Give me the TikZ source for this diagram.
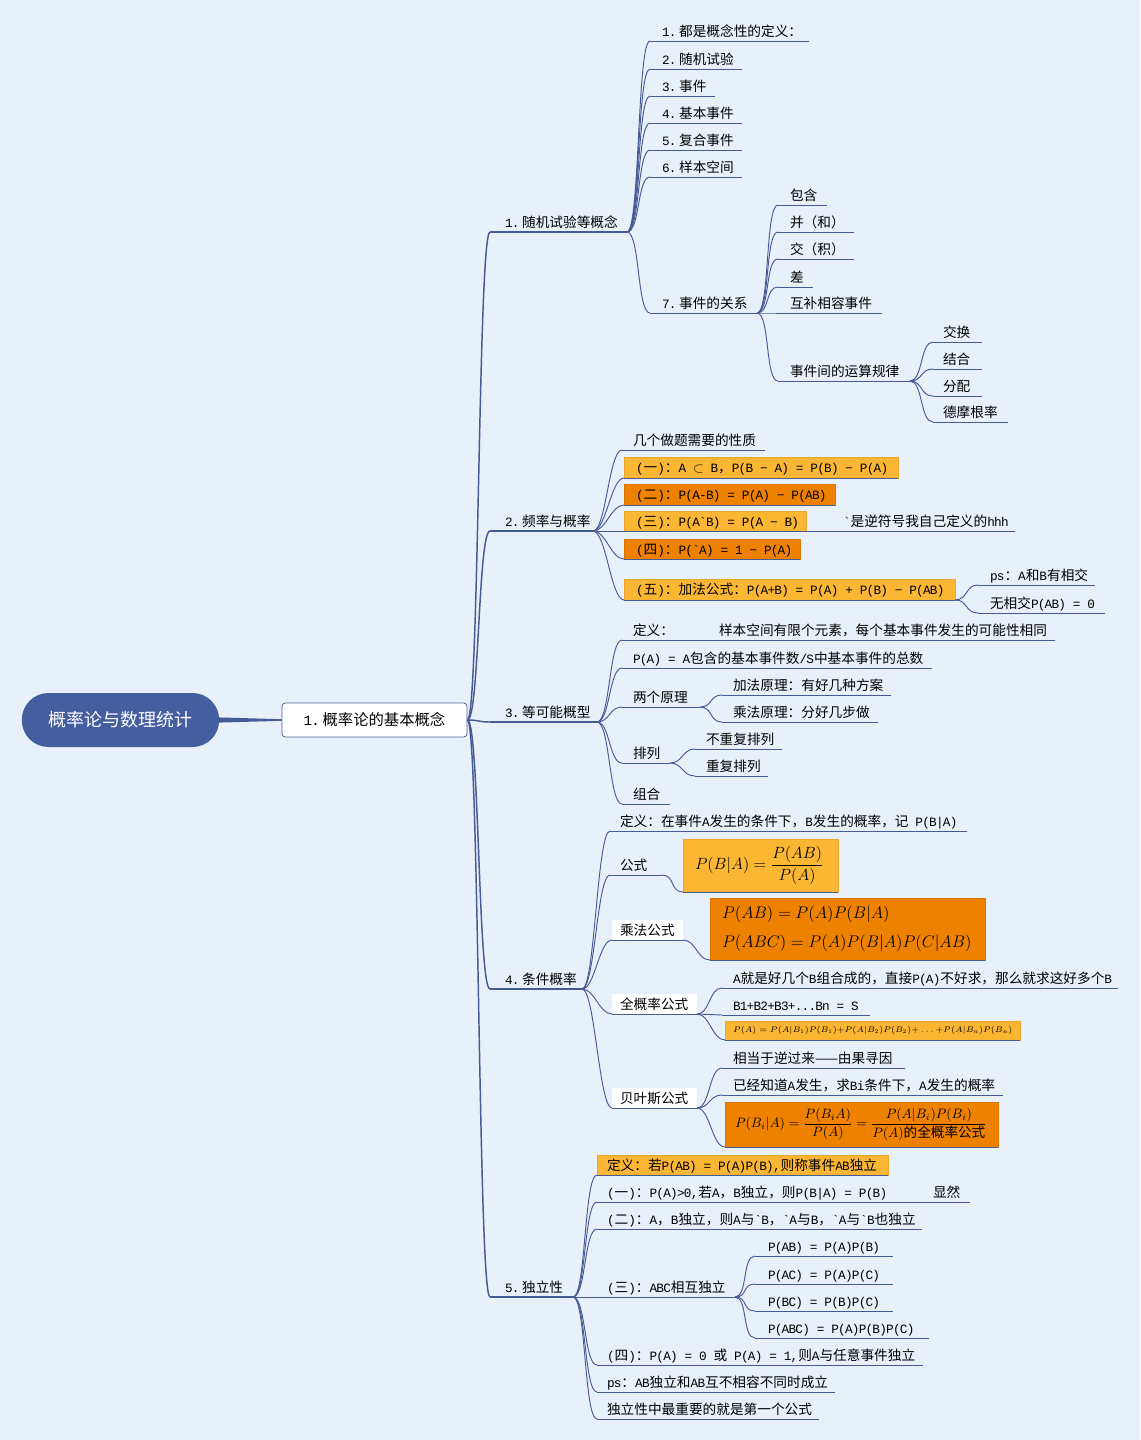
\RequirePackage{fix-cm}
\documentclass[tikz,border=0pt]{standalone}
\usepackage{amsmath}
\usepackage{fontspec}
\setmonofont[Scale=0.93,LetterSpace=-6]{Liberation Mono}
\renewcommand\familydefault{\ttdefault}
\newfontfamily\cjkf{Noto Sans CJK SC}
\usetikzlibrary{calc}
% automatic switch to the CJK font for CJK characters
\chardef\cjkcls=7
\newcount\cjkn
\cjkn="3000
\loop\XeTeXcharclass\cjkn=\cjkcls\ifnum\cjkn<"9FFF\advance\cjkn by 1\repeat
\cjkn="FF00
\loop\XeTeXcharclass\cjkn=\cjkcls\ifnum\cjkn<"FFEF\advance\cjkn by 1\repeat
\XeTeXcharclass"2014=\cjkcls
\XeTeXinterchartokenstate=1
\XeTeXinterchartoks 0 \cjkcls = {\begingroup\cjkf}
\XeTeXinterchartoks 4095 \cjkcls = {\begingroup\cjkf}
\XeTeXinterchartoks \cjkcls 0 = {\endgroup}
\XeTeXinterchartoks \cjkcls 4095 = {\endgroup}

\definecolor{bgc}{RGB}{232,240,249}
\definecolor{lc}{RGB}{70,90,150}
\definecolor{lo}{RGB}{251,183,52}
\definecolor{loB}{RGB}{236,165,45}
\definecolor{dor}{RGB}{238,130,0}
\definecolor{doB}{RGB}{220,118,0}
\definecolor{rootc}{RGB}{68,94,160}
\definecolor{mainB}{RGB}{85,100,145}

\newdimen\pxu \pxu=0.75pt
\tikzset{
  lnk/.style={draw=lc, line width=0.7pt},
  lnkA/.style={draw=lc, line width=1.1pt},
  tp/.style={anchor=south west, inner sep=0pt, outer sep=0pt, text height=7.5pt, text depth=3.75pt, font=\ttfamily\fontsize{10.25}{12}\selectfont},
  bx/.style={anchor=south west, inner sep=0pt, outer sep=0pt, font=\ttfamily\fontsize{10.25}{12}\selectfont},
  bxt/.style={bx, text height=9pt, text depth=1.5pt},
  lob/.style={bxt, fill=lo, draw=loB, line width=0.4pt},
  dob/.style={bxt, fill=dor, draw=doB, line width=0.4pt},
  wb/.style={bxt, fill=white},
  lof/.style={bx, fill=lo, draw=loB, line width=0.4pt},
  dof/.style={bx, fill=dor, draw=doB, line width=0.4pt},
  rootn/.style={fill=rootc, text=white, rounded corners=20pt, minimum width=148pt, minimum height=40.5pt, inner sep=0pt, font=\fontsize{13.5}{16}\selectfont},
  mainn/.style={fill=white, draw=mainB, line width=0.6pt, rounded corners=2.5pt, minimum width=138.75pt, minimum height=25.5pt, inner sep=0pt, font=\ttfamily\fontsize{11.5}{14}\selectfont}
}
% topic with underline: [pad]{name}{x}{y of underline}{width}{text}
\newcommand\mmtopic[6][11]{\node[tp] (#2) at (#3,#4) {\makebox[#5\pxu][l]{\hspace*{#1\pxu}#6}};}
% filled box: [pad]{name}{x}{y bottom}{width}{height}{style}{text}
\newcommand\mmbox[8][12]{\node[#7, minimum height=#6*0.75pt] (#2) at (#3,#4) {\makebox[#5\pxu][l]{\hspace*{#1\pxu}#8}};}

\begin{document}
\begin{tikzpicture}[x=0.75pt, y=-0.75pt]
\fill[bgc] (0,0) rectangle (1140,1440);
\useasboundingbox (0,0) rectangle (1140,1440);

\node[rootn] (root) at (120.5,720) {概率论与数理统计};
\node[mainn] (main) at (374.5,720) {1.\hspace{2pt}概率论的基本概念};

% ---- section 1
\mmtopic[15]{s1}{490}{232}{137}{1.\hspace{2pt}随机试验等概念}
\mmtopic[12]{a1}{650}{41}{159}{1.\hspace{2pt}都是概念性的定义：}
\mmtopic[12]{a2}{650}{69}{92}{2.\hspace{2pt}随机试验}
\mmtopic[12]{a3}{650}{96}{65}{3.\hspace{2pt}事件}
\mmtopic[12]{a4}{650}{123}{92}{4.\hspace{2pt}基本事件}
\mmtopic[12]{a5}{650}{150}{92}{5.\hspace{2pt}复合事件}
\mmtopic[12]{a6}{650}{177}{92}{6.\hspace{2pt}样本空间}
\mmtopic[12]{a7}{650}{313}{107}{7.\hspace{2pt}事件的关系}
\mmtopic[12]{r1}{778}{205}{49}{包含}
\mmtopic[12]{r2}{778}{232}{76}{并（和）}
\mmtopic[12]{r3}{778}{259}{76}{交（积）}
\mmtopic[12]{r4}{778}{287}{35}{差}
\mmtopic[12]{r5}{778}{313}{104}{互补相容事件}
\mmtopic[12]{r6}{778}{381}{132}{事件间的运算规律}
\mmtopic[10]{o1}{933}{342}{49}{交换}
\mmtopic[10]{o2}{933}{369}{49}{结合}
\mmtopic[10]{o3}{933}{396}{49}{分配}
\mmtopic[10]{o4}{933}{422}{75}{德摩根率}

% ---- section 2
\mmtopic[15]{s2}{490}{531}{103}{2.\hspace{2pt}频率与概率}
\mmtopic{p0}{622}{450}{143}{几个做题需要的性质}
\mmbox{p1}{624}{478}{274}{21}{lob}{(一)：A $\subset$ B，P(B − A) = P(B) − P(A)}
\mmbox{p2}{624}{505}{211}{21}{dob}{(二)：P(A-B) = P(A) − P(AB)}
\mmbox{p3}{624}{531}{182}{20}{lob}{(三)：P(A`B) = P(A − B)}
\mmtopic[13]{p3c}{830}{531}{185}{`是逆符号我自己定义的hhh}
\mmbox{p4}{624}{559}{176}{20}{dob}{(四)：P(`A) = 1 − P(A)}
\mmbox{p5}{624}{600}{331}{21}{lob}{(五)：加法公式：P(A+B) = P(A) + P(B) − P(AB)}
\mmtopic[12]{p5a}{978}{585}{117}{ps：A和B有相交}
\mmtopic[12]{p5b}{978}{613}{127}{无相交P(AB) = 0}

% ---- section 3
\mmtopic[15]{s3}{490}{722}{107}{3.\hspace{2pt}等可能概型}
\mmtopic{q1}{622}{640}{433}{定义：\hspace*{45\pxu}样本空间有限个元素，每个基本事件发生的可能性相同}
\mmtopic{q2}{622}{668}{310}{P(A) = A包含的基本事件数/S中基本事件的总数}
\mmtopic{q3}{622}{707}{78}{两个原理}
\mmtopic{q31}{722}{695}{169}{加法原理：有好几种方案}
\mmtopic{q32}{722}{722}{156}{乘法原理：分好几步做}
\mmtopic{q4}{622}{763}{48}{排列}
\mmtopic{q41}{695}{749}{87}{不重复排列}
\mmtopic{q42}{695}{776}{73}{重复排列}
\mmtopic{q5}{622}{804}{48}{组合}

% ---- section 4
\mmtopic[15]{s4}{490}{989}{92}{4.\hspace{2pt}条件概率}
\mmtopic[10]{c1}{610}{831}{357}{定义：在事件A发生的条件下，B发生的概率，记 P(B|A)}
\mmtopic[10]{c2}{610}{875}{52}{公式}
\mmbox{c2f}{683}{892}{155}{53}{lof}{\fontsize{12.2}{14}\selectfont$P(B|A)=\dfrac{P(AB)}{P(A)}$}
\mmbox[8]{c3}{612}{940}{71}{20}{wb}{乘法公式}
\mmbox{c3f}{710}{960}{275}{62}{dof}{\fontsize{12.6}{15.5}\selectfont\begin{tabular}{@{}l@{}}$P(AB)=P(A)P(B|A)$\\[6.5pt]$P(ABC)=P(A)P(B|A)P(C|AB)$\end{tabular}}
\mmbox[8]{c4}{612}{1014}{85}{20}{wb}{全概率公式}
\mmtopic{c41}{722}{988}{396}{A就是好几个B组合成的，直接P(A)不好求，那么就求这好多个B}
\mmtopic{c42}{722}{1015}{148}{B1+B2+B3+...Bn = S}
\mmbox[8]{c43}{725}{1040}{295}{19}{lof}{\fontsize{6.2}{7.5}\selectfont$P(A)=P(A|B_1)P(B_1){+}P(A|B_2)P(B_2){+}\ldots{+}P(A|B_n)P(B_n)$}
\mmbox[8]{c5}{612}{1108}{85}{20}{wb}{贝叶斯公式}
\mmtopic{c51}{722}{1068}{183}{相当于逆过来——由果寻因}
\mmtopic{c52}{722}{1095}{281}{已经知道A发生，求Bi条件下，A发生的概率}
\mmbox[10]{c53}{725}{1147}{273}{45}{dof}{\fontsize{10.2}{12}\selectfont$P(B_i|A)=\dfrac{P(B_iA)}{P(A)}=\dfrac{P(A|B_i)P(B_i)}{P(A)\mbox{的全概率公式}}$}

% ---- section 5
\mmtopic[15]{s5}{490}{1297}{83}{5.\hspace{2pt}独立性}
\mmbox[10]{d0}{597}{1175}{291}{20}{lob}{定义：若P(AB) = P(A)P(B),则称事件AB独立}
\mmtopic[10]{d1}{597}{1202}{296}{(一)：P(A)>0,若A，B独立，则P(B|A) = P(B)}
\mmtopic[13]{d1c}{920}{1202}{50}{显然}
\mmtopic[10]{d2}{597}{1229}{325}{(二)：A，B独立，则A与`B，`A与B，`A与`B也独立}
\mmtopic[10]{d3}{597}{1297}{138}{(三)：ABC相互独立}
\mmtopic[13]{d31}{755}{1256}{138}{P(AB) = P(A)P(B)}
\mmtopic[13]{d32}{755}{1284}{138}{P(AC) = P(A)P(C)}
\mmtopic[13]{d33}{755}{1311}{138}{P(BC) = P(B)P(C)}
\mmtopic[13]{d34}{755}{1338}{174}{P(ABC) = P(A)P(B)P(C)}
\mmtopic[10]{d4}{597}{1365}{326}{(四)：P(A) = 0 或 P(A) = 1,则A与任意事件独立}
\mmtopic[10]{d5}{597}{1392}{238}{ps：AB独立和AB互不相容不同时成立}
\mmtopic[10]{d6}{597}{1419}{222}{独立性中最重要的就是第一个公式}

% ---- connectors
\fill[lc] ($(root.east)+(-1,-2.6)$) -- ($(main.west)+(0,-0.8)$) -- ($(main.west)+(0,0.8)$) -- ($(root.east)+(-1,2.6)$) -- cycle;
\foreach \c in {s1,s2,s3,s4,s5}
  \draw[lnkA] (main.east) .. controls +(12,0) and +(-12,0) .. (\c.south west);
\foreach \n in {s1,s2,s3,s4,s5}
  \draw[lnkA] (\n.south west) -- (\n.south east);
\foreach \p/\c in {s1/a1,s1/a2,s1/a3,s1/a4,s1/a5,s1/a6,s1/a7,a7/r1,a7/r2,a7/r3,a7/r4,a7/r5,a7/r6,r6/o1,r6/o2,r6/o3,r6/o4,
  s2/p0,s2/p1,s2/p2,s2/p3,s2/p4,s2/p5,p3/p3c,p5/p5a,p5/p5b,
  s3/q1,s3/q2,s3/q3,s3/q4,s3/q5,q3/q31,q3/q32,q4/q41,q4/q42,
  s4/c1,s4/c2,s4/c3,s4/c4,s4/c5,c2/c2f,c3/c3f,c4/c41,c4/c42,c4/c43,c5/c51,c5/c52,c5/c53,
  s5/d0,s5/d1,s5/d2,s5/d3,s5/d4,s5/d5,s5/d6,d1/d1c,d3/d31,d3/d32,d3/d33,d3/d34}
  \draw[lnk] (\p.south east) .. controls +(13,0) and +(-13,0) .. (\c.south west);
\foreach \n in {a1,a2,a3,a4,a5,a6,a7,r1,r2,r3,r4,r5,r6,o1,o2,o3,o4,
  p0,p1,p2,p3,p3c,p4,p5,p5a,p5b,q1,q2,q3,q31,q32,q4,q41,q42,q5,
  c1,c2,c2f,c3,c3f,c4,c41,c42,c43,c5,c51,c52,c53,
  d0,d1,d1c,d2,d3,d31,d32,d33,d34,d4,d5,d6}
  \draw[lnk] (\n.south west) -- (\n.south east);
\end{tikzpicture}
\end{document}
